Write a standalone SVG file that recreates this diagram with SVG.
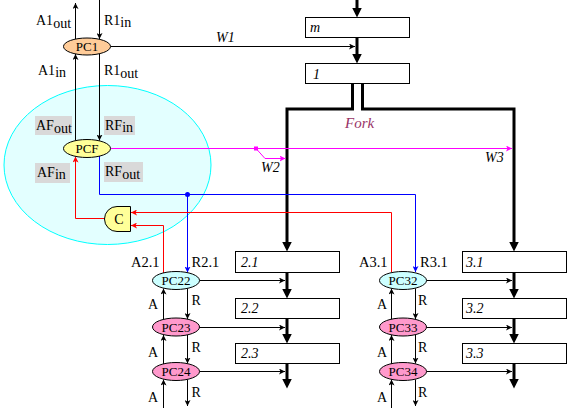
<svg xmlns="http://www.w3.org/2000/svg" width="574" height="408" viewBox="0 0 574 408">
<style>
text{font-family:"Liberation Serif","Times New Roman",serif;font-size:14px;fill:#000}
.it{font-style:italic}
.pc{font-size:13px;text-anchor:middle}
.lb14{font-size:14.5px}
.box{fill:#fff;stroke:#000;stroke-width:1}
.pe{stroke:#000;stroke-width:1}
.thick{fill:none;stroke:#000;stroke-width:3;stroke-linejoin:miter}
.thin{fill:none;stroke:#000;stroke-width:1}
.red{fill:none;stroke:#f00;stroke-width:1}
.blue{fill:none;stroke:#00f;stroke-width:1}
.mag{fill:none;stroke:#f0f;stroke-width:1}
.gray{fill:#d9d9d9}
</style>
<defs>
<marker id="ak" markerUnits="userSpaceOnUse" viewBox="0 0 10 10" markerWidth="10" markerHeight="10" refX="6" refY="5" orient="auto"><path d="M0,0 L10,5 L0,10 z" fill="#000"/></marker>
<marker id="ab" markerUnits="userSpaceOnUse" viewBox="0 0 6 6" markerWidth="6" markerHeight="6" refX="6" refY="3" orient="auto"><path d="M0,0 L6,3 L0,6 L1.5,3 z" fill="#000"/></marker>
<marker id="ar" markerUnits="userSpaceOnUse" viewBox="0 0 6 6" markerWidth="6" markerHeight="6" refX="6" refY="3" orient="auto"><path d="M0,0 L6,3 L0,6 L1.5,3 z" fill="#f00"/></marker>
<marker id="abl" markerUnits="userSpaceOnUse" viewBox="0 0 6 6" markerWidth="6" markerHeight="6" refX="6" refY="3" orient="auto"><path d="M0,0 L6,3 L0,6 L1.5,3 z" fill="#00f"/></marker>
<marker id="am" markerUnits="userSpaceOnUse" viewBox="0 0 6 6" markerWidth="6" markerHeight="6" refX="6" refY="3" orient="auto"><path d="M0,0 L6,3 L0,6 L1.5,3 z" fill="#f0f"/></marker>
</defs>
<rect width="574" height="408" fill="#fff"/>

<g id="cluster">
<ellipse cx="107.5" cy="165" rx="103.5" ry="79.5" fill="#e3ffff" stroke="#00ffff" stroke-width="1"/>
<rect class="gray" x="35" y="116" width="37" height="19"/>
<rect class="gray" x="104" y="116" width="31" height="19"/>
<rect class="gray" x="35" y="163" width="35" height="20"/>
<rect class="gray" x="104" y="162" width="39" height="20"/>
</g>

<g id="connectors">
<path class="thick" d="M357,0 V13.5" marker-end="url(#ak)"/>
<path class="thick" d="M357,37.5 V59.5" marker-end="url(#ak)"/>
<path class="thick" d="M352.5,83.5 V109 H287 V247.5" marker-end="url(#ak)"/>
<path class="thick" d="M362.5,83.5 V109 H514 V247.5" marker-end="url(#ak)"/>
<path class="thick" d="M287,272.5 V294.5" marker-end="url(#ak)"/>
<path class="thick" d="M287,318.5 V339.5" marker-end="url(#ak)"/>
<path class="thick" d="M287,363.5 V384.5" marker-end="url(#ak)"/>
<path class="thick" d="M514,272.5 V294.5" marker-end="url(#ak)"/>
<path class="thick" d="M514,318.5 V339.5" marker-end="url(#ak)"/>
<path class="thick" d="M514,363.5 V384.5" marker-end="url(#ak)"/>

<path class="thin" d="M110.5,46.5 H355" marker-end="url(#ab)"/>
<path class="thin" d="M75.5,39 V3" marker-end="url(#ab)"/>
<path class="thin" d="M99.5,0 V39" marker-end="url(#ab)"/>
<path class="thin" d="M75.5,140.5 V54" marker-end="url(#ab)"/>
<path class="thin" d="M99.5,54 V140.5" marker-end="url(#ab)"/>

<path class="mag" d="M110.5,148.5 H512" marker-end="url(#am)"/>
<path class="mag" d="M256,148.5 L265,158.5 H285.5" marker-end="url(#am)"/>
<rect x="254" y="146.5" width="4" height="4" fill="#f0f"/>

<path class="blue" d="M99.5,156 V194.5 H415.5 V272" marker-end="url(#abl)"/>
<path class="blue" d="M187.5,194.5 V272.5" marker-end="url(#abl)"/>
<circle cx="187.5" cy="194.5" r="2.5" fill="#00f"/>

<path class="red" d="M105,218.5 H75.5 V156.5" marker-end="url(#ar)"/>
<path class="red" d="M391.5,272 V212.5 H131" marker-end="url(#ar)"/>
<path class="red" d="M163.5,273 V225.5 H131" marker-end="url(#ar)"/>

<path class="thin" d="M199.5,280.5 H285" marker-end="url(#ab)"/>
<path class="thin" d="M199.5,327.5 H285" marker-end="url(#ab)"/>
<path class="thin" d="M199.5,371.5 H285" marker-end="url(#ab)"/>
<path class="thin" d="M426.5,280.5 H512" marker-end="url(#ab)"/>
<path class="thin" d="M426.5,327.5 H512" marker-end="url(#ab)"/>
<path class="thin" d="M426.5,371.5 H512" marker-end="url(#ab)"/>

<path class="thin" d="M163.5,319.5 V288.5" marker-end="url(#ab)"/>
<path class="thin" d="M163.5,364 V335" marker-end="url(#ab)"/>
<path class="thin" d="M163.5,408 V379.5" marker-end="url(#ab)"/>
<path class="thin" d="M187.5,288.5 V319" marker-end="url(#ab)"/>
<path class="thin" d="M187.5,335 V363.5" marker-end="url(#ab)"/>
<path class="thin" d="M187.5,379.5 V406" marker-end="url(#ab)"/>
<path class="thin" d="M391.5,319.5 V288.5" marker-end="url(#ab)"/>
<path class="thin" d="M391.5,364 V335" marker-end="url(#ab)"/>
<path class="thin" d="M391.5,408 V379.5" marker-end="url(#ab)"/>
<path class="thin" d="M415.5,288.5 V319" marker-end="url(#ab)"/>
<path class="thin" d="M415.5,335 V363.5" marker-end="url(#ab)"/>
<path class="thin" d="M415.5,379.5 V406" marker-end="url(#ab)"/>

<text class="it" x="216" y="42">W1</text>
<text class="it" x="261" y="172">W2</text>
<text class="it" x="485" y="162">W3</text>
<text class="it" x="345" y="128" style="font-size:15px;fill:#993366">Fork</text>

<text x="36" y="25">A1<tspan dy="3">out</tspan></text>
<text x="104" y="25">R1<tspan dy="2">in</tspan></text>
<text x="38" y="75">A1<tspan dy="2">in</tspan></text>
<text x="104" y="75">R1<tspan dy="3">out</tspan></text>
<text x="36" y="130">AF<tspan dy="3">out</tspan></text>
<text x="105" y="130">RF<tspan dy="2">in</tspan></text>
<text x="37" y="177">AF<tspan dy="2">in</tspan></text>
<text x="105" y="176">RF<tspan dy="3">out</tspan></text>

<text class="lb14" x="131" y="266.5">A2.1</text>
<text class="lb14" x="191.5" y="266.5">R2.1</text>
<text class="lb14" x="359" y="266.5">A3.1</text>
<text class="lb14" x="420" y="266.5">R3.1</text>

<text x="148" y="309">A</text>
<text x="148" y="356.5">A</text>
<text x="148" y="401.5">A</text>
<text x="191.5" y="305">R</text>
<text x="191.5" y="351.5">R</text>
<text x="191.5" y="396.5">R</text>
<text x="377" y="309">A</text>
<text x="377" y="356.5">A</text>
<text x="377" y="401.5">A</text>
<text x="418" y="305">R</text>
<text x="418" y="351.5">R</text>
<text x="418" y="396.5">R</text>
</g>

<g id="box-m"><rect class="box" x="305.5" y="17.5" width="104" height="20"/><text class="it" x="310" y="32">m</text></g>
<g id="box-1"><rect class="box" x="305.5" y="63.5" width="104" height="20"/><text class="it" x="313" y="78.5">1</text></g>
<g id="box-2.1"><rect class="box" x="235.5" y="251.5" width="104" height="21"/><text class="it" x="241" y="266.5">2.1</text></g>
<g id="box-2.2"><rect class="box" x="235.5" y="298.5" width="104" height="20"/><text class="it" x="241" y="313">2.2</text></g>
<g id="box-2.3"><rect class="box" x="235.5" y="343.5" width="104" height="20"/><text class="it" x="241" y="358">2.3</text></g>
<g id="box-3.1"><rect class="box" x="462.5" y="251.5" width="104" height="21"/><text class="it" x="466" y="266.5">3.1</text></g>
<g id="box-3.2"><rect class="box" x="462.5" y="298.5" width="104" height="20"/><text class="it" x="466" y="313">3.2</text></g>
<g id="box-3.3"><rect class="box" x="462.5" y="343.5" width="104" height="20"/><text class="it" x="466" y="358">3.3</text></g>

<g id="PC1"><ellipse class="pe" cx="87" cy="46.5" rx="23.5" ry="8.5" fill="#ffcc99"/><text class="pc" x="87" y="51">PC1</text></g>
<g id="PCF"><ellipse class="pe" cx="87" cy="148.5" rx="23.5" ry="9" fill="#ffff99"/><text class="pc" x="87" y="153">PCF</text></g>
<g id="C"><path class="pe" d="M130.5,206.5 H117 A12.5,12.5 0 0 0 117,231.5 H130.5 Z" fill="#ffff99"/><text x="119" y="224" style="text-anchor:middle">C</text></g>
<g id="PC22"><ellipse class="pe" cx="176" cy="280.5" rx="23.5" ry="9" fill="#ccffff"/><text class="pc" x="176" y="285">PC22</text></g>
<g id="PC23"><ellipse class="pe" cx="176" cy="327" rx="23.5" ry="9" fill="#ff99cc"/><text class="pc" x="176" y="331.5">PC23</text></g>
<g id="PC24"><ellipse class="pe" cx="176" cy="371.5" rx="23.5" ry="9" fill="#ff99cc"/><text class="pc" x="176" y="376">PC24</text></g>
<g id="PC32"><ellipse class="pe" cx="403" cy="280.5" rx="23.5" ry="9" fill="#ccffff"/><text class="pc" x="403" y="285">PC32</text></g>
<g id="PC33"><ellipse class="pe" cx="403" cy="327" rx="23.5" ry="9" fill="#ff99cc"/><text class="pc" x="403" y="331.5">PC33</text></g>
<g id="PC34"><ellipse class="pe" cx="403" cy="371.5" rx="23.5" ry="9" fill="#ff99cc"/><text class="pc" x="403" y="376">PC34</text></g>
</svg>
